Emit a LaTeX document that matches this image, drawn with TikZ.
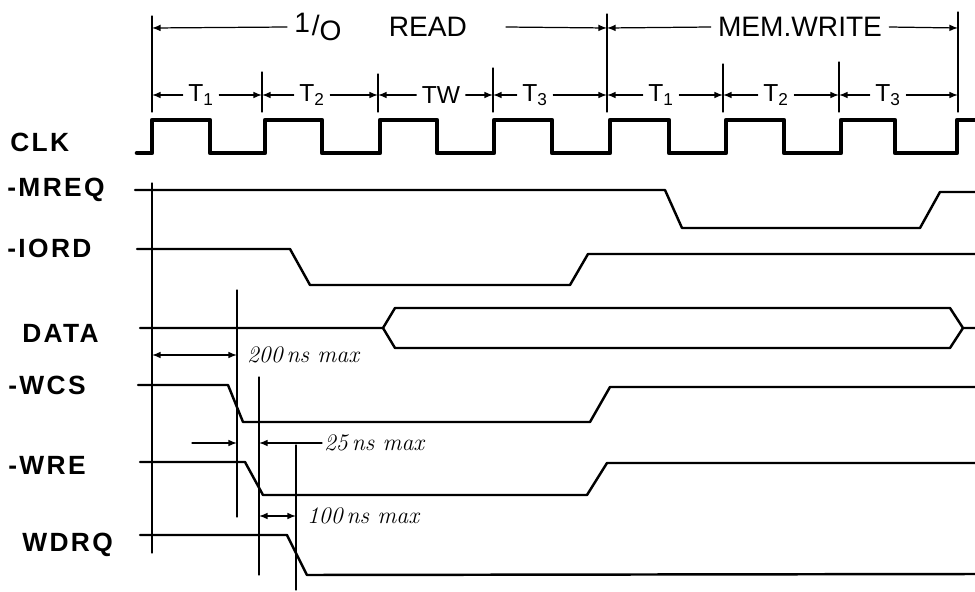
\documentclass[tikz,border=0pt]{standalone}
\usepackage{fontspec}
\setsansfont{Liberation Sans}
\newfontfamily\labfont[LetterSpace=9]{Liberation Sans}
\usetikzlibrary{arrows}

\begin{document}
\begin{tikzpicture}[line cap=round,line join=round,>=latex,x=0.02cm,y=-0.02cm]
        \tikzset{
          wave/.style={line width=1.4pt},
          clkwave/.style={line width=2.6pt},
          guide/.style={line width=0.7pt},
          dim/.style={line width=0.7pt},
          siglab/.style={anchor=west,inner sep=0pt,font=\labfont\bfseries\fontsize{15}{15}\selectfont},
          phase/.style={font=\sffamily\fontsize{16}{16}\selectfont,inner sep=4pt},
          tlab/.style={font=\sffamily\fontsize{14}{14}\selectfont,inner sep=3pt},
          note/.style={anchor=west,inner sep=1pt,font=\rmfamily\itshape\fontsize{13.5}{13.5}\selectfont}
        }
        \useasboundingbox (0,0) rectangle (975,592);
        % 
        \node[siglab] (clk) at (10,142) {CLK};
        \node[siglab] (mreq) at (7,190) {-MREQ};
        \node[siglab] (iord) at (7,248) {-IORD};
        \node[siglab] (data) at (22,333) {DATA};
        \node[siglab] (wcs) at (8,385) {-WCS};
        \node[siglab] (wre) at (8,465) {-WRE};
        \node[siglab] (wdrq) at (22,545) {WDRQ};
        % 
        \foreach \x/\y in {152/16, 262/72, 378/74, 493/68, 607/14, 723/64, 839/62, 958/12}
          \draw[guide] (\x,\y) -- (\x,112);
        \node[phase] (io) at (318,27) {\raisebox{2pt}{1}\kern1pt/\raisebox{-3pt}{O}};
        \node[phase] (rd) at (428,27) {READ};
        \node[phase] (mw) at (800,27) {MEM.WRITE};
        \draw[dim,->] (io.west) -- (152,28);
        \draw[dim,->] ([xshift=18pt]rd.east) -- (607,28);
        \draw[dim,->] (mw.west) -- (607,28);
        \draw[dim,->] (mw.east) -- (958,28);
        % 
        \foreach \a/\b/\c/\t/\n in {152/262/201/T\textsubscript{1}/pa, 262/378/312/T\textsubscript{2}/pb,
            378/493/441/TW/pc, 493/607/535/T\textsubscript{3}/pd, 607/723/661/T\textsubscript{1}/pe,
            723/839/776/T\textsubscript{2}/pf, 839/958/888/T\textsubscript{3}/pg} {
          \node[tlab] (\n) at (\c,95) {\t};
          \draw[dim,->] (\n.west) -- (\a,95);
          \draw[dim,->] (\n.east) -- (\b,95);
        }
        % 
        \draw[clkwave] (137,153) \foreach \r/\f in {152/210, 265/322, 380/437, 494/552, 610/669, 726/784, 841/895}
          { -- (\r,153) -- (\r,120) -- (\f,120) -- (\f,153) } -- (957,153) -- (957,120) -- (975,120);
        \draw[wave] (135,190) -- (665,190) -- (682,228) -- (920,228) -- (940,192) -- (975,192);
        \draw[wave] (137,249) -- (290,249) -- (310,285) -- (570,285) -- (588,254) -- (975,254);
        \draw[wave] (140,328) -- (383,328) -- (395,308) -- (950,308) -- (963,328) -- (975,328);
        \draw[wave] (383,328) -- (395,348) -- (950,348) -- (963,328);
        \draw[wave] (138,385) -- (228,385) -- (243,422) -- (590,422) -- (610,387) -- (975,387);
        \draw[wave] (140,462) -- (245,462) -- (263,495) -- (587,495) -- (607,463) -- (975,463);
        \draw[wave] (140,535) -- (287,535) -- (307,575) -- (975,574);
        % 
        \coordinate (g0) at (152,183);
        \coordinate (g1) at (237,290);
        \coordinate (g2) at (259,377);
        \coordinate (g3) at (296,445);
        \draw[guide] (g0) -- (152,553);
        \draw[guide] (g1) -- (237,517);
        \draw[guide] (g2) -- (259,575);
        \draw[guide] (g3) -- (296,590);
        % 
        \node[note] (n200) at (245,355) {200\,ns max};
        \draw[dim,<->] (g0 |- n200.west) -- (g1 |- n200.west);
        \node[note] (n25) at (322,443) {25\,ns max};
        \coordinate (s25) at (192,443);
        \draw[dim,->] (s25) -- (g1 |- n25.west);
        \draw[dim,->] (n25.west) -- (g2 |- n25.west);
        \node[note] (n100) at (305,516) {100\,ns max};
        \draw[dim,<->] (g2 |- n100.west) -- (g3 |- n100.west);
      \end{tikzpicture}
\end{document}
